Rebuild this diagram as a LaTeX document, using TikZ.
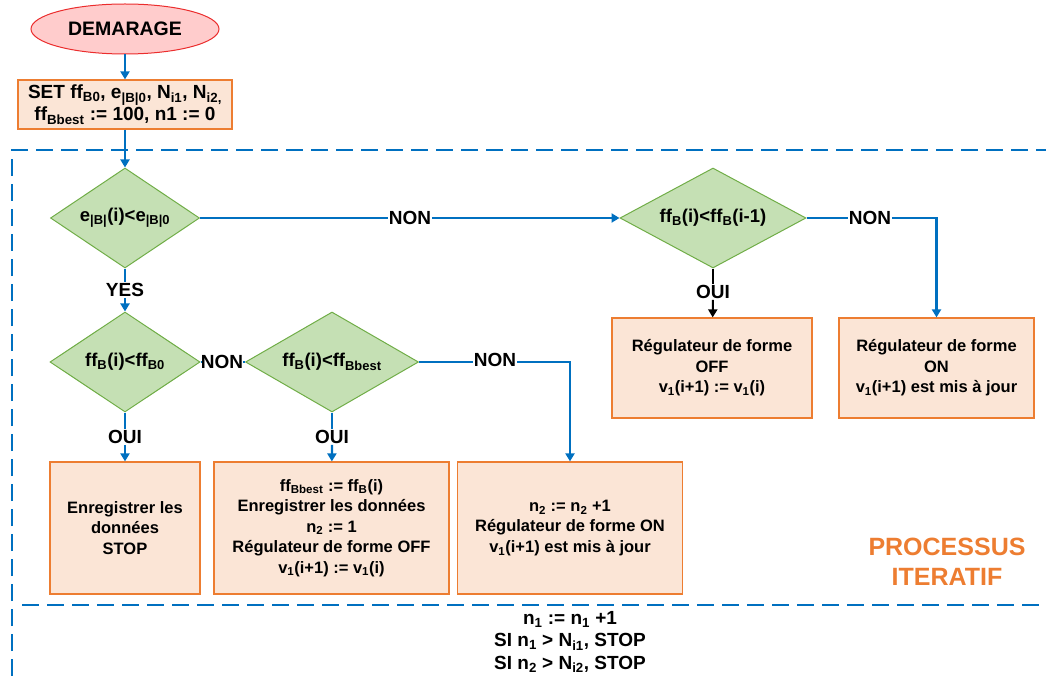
\documentclass[tikz,border=0pt]{standalone}
\usepackage{fontspec}
\setmainfont{Liberation Sans}
\usetikzlibrary{shapes.geometric, arrows.meta}
\definecolor{flowblue}{RGB}{0,112,192}
\definecolor{testfill}{RGB}{197,224,180}
\definecolor{testedge}{RGB}{112,173,71}
\definecolor{boxfill}{RGB}{251,229,214}
\definecolor{boxedge}{RGB}{237,125,49}
\definecolor{startfill}{RGB}{255,204,204}
\definecolor{startedge}{RGB}{235,45,45}

\begin{document}
\begin{tikzpicture}[x=1pt,y=-1pt,
  txt/.style={font=\fontsize{16.5}{20.5}\selectfont\bfseries, align=center},
  test/.style={diamond, aspect=1.6, txt, font=\fontsize{18.5}{22}\selectfont\bfseries, draw=testedge, fill=testfill, line width=1pt, inner sep=0pt, minimum width=#1, minimum height=100pt},
  action/.style={rectangle, txt, draw=boxedge, fill=boxfill, line width=1.2pt, inner sep=0pt, minimum width=#1},
  lab/.style={txt, font=\fontsize{19}{22}\selectfont\bfseries, inner sep=1pt},
  flow/.style={draw=flowblue, line width=2.2pt},
  flowarr/.style={flow, -{Triangle[width=9pt,length=8pt]}},
  frame/.style={draw=flowblue, line width=1.8pt, dash pattern=on 17pt off 8pt}]
\useasboundingbox (0,0) rectangle (1046,676);

% iterative frame
\draw[frame] (12,676) -- (12,150) -- (1046,150);
\draw[frame] (22,605) -- (1046,605);

% start and init
\node[ellipse, draw=startedge, fill=startfill, line width=1pt, minimum width=188pt, minimum height=50pt, inner sep=0pt, font=\fontsize{19.5}{22}\selectfont\bfseries] (start) at (125,29) {DEMARAGE};
\node[action=214pt, minimum height=49pt, font=\fontsize{19}{22}\selectfont\bfseries] (init) at (125,104.5)
  {SET ff\textsubscript{B0}, e\textsubscript{|B|0}, N\textsubscript{i1}, N\textsubscript{i2,}\\ ff\textsubscript{Bbest} := 100, n1 := 0};

% tests
\node[test=149pt] (erreur) at (125,218) {e\textsubscript{|B|}(i)<e\textsubscript{|B|0}};
\node[test=150pt] (ffzero) at (125,362) {ff\textsubscript{B}(i)<ff\textsubscript{B0}};
\node[test=173pt] (ffbest) at (332,362) {ff\textsubscript{B}(i)<ff\textsubscript{Bbest}};
\node[test=186pt] (ffprev) at (713,218) {ff\textsubscript{B}(i)<ff\textsubscript{B}(i-1)};

% actions
\node[action=150pt, minimum height=132pt] (stop) at (125,528) {Enregistrer les\\ données\\ STOP};
\node[action=235pt, minimum height=132pt] (best) at (331.5,528)
  {ff\textsubscript{Bbest} := ff\textsubscript{B}(i)\\ Enregistrer les données\\ n\textsubscript{2} := 1\\ Régulateur de forme OFF\\ v\textsubscript{1}(i+1) := v\textsubscript{1}(i)};
\node[action=225pt, minimum height=132pt] (count) at (570,528)
  {n\textsubscript{2} := n\textsubscript{2} +1\\ Régulateur de forme ON\\ v\textsubscript{1}(i+1) est mis à jour};
\node[action=200pt, minimum height=100pt] (regoff) at (712,368)
  {Régulateur de forme\\ OFF\\ v\textsubscript{1}(i+1) := v\textsubscript{1}(i)};
\node[action=195pt, minimum height=100pt] (regon) at (936.5,368)
  {Régulateur de forme\\ ON\\ v\textsubscript{1}(i+1) est mis à jour};

% branch labels
\node[lab] (yes) at (125,290) {YES};
\node[lab] (non1) at (410,218) {NON};
\node[lab, inner sep=0pt] (non2) at (222,362) {NON};
\node[lab] (non3) at (495,360) {NON};
\node[lab] (non4) at (870,218) {NON};
\node[lab] (oui1) at (125,437) {OUI};
\node[lab] (oui2) at (332,437) {OUI};
\node[lab] (oui3) at (713,292) {OUI};

% connectors
\draw[flowarr] (start) -- (init);
\draw[flowarr] (init) -- (erreur);
\draw[flow] (erreur) -- (yes);
\draw[flowarr] (yes) -- (ffzero);
\draw[flow] (erreur) -- (non1);
\draw[flowarr] (non1) -- (ffprev);
\draw[flow] (ffzero) -- (non2);
\draw[flow] (non2) -- (ffbest);
\draw[flow] (ffzero) -- (oui1);
\draw[flowarr] (oui1) -- (stop);
\draw[flow] (ffbest) -- (oui2);
\draw[flowarr] (oui2) -- (best);
\draw[flow] (ffbest) -- (ffbest -| non3.west);
\draw[flowarr] (non3.east |- ffbest) -| (count);
\draw[flow] (ffprev) -- (non4);
\draw[flowarr] (non4) -| (regon);
\draw[line width=2pt] (ffprev) -- (oui3);
\draw[line width=2pt, -{Triangle[width=9pt,length=8pt]}] (oui3) -- (regoff);

% loop update
\node[txt, font=\fontsize{19}{22.5}\selectfont\bfseries] (update) at (570,642)
  {n\textsubscript{1} := n\textsubscript{1} +1\\ SI n\textsubscript{1} > N\textsubscript{i1}, STOP\\ SI n\textsubscript{2} > N\textsubscript{i2}, STOP};
\node[align=center, text=boxedge, font=\fontsize{25}{30}\selectfont\bfseries] (iter) at (947,562) {PROCESSUS\\ ITERATIF};
\end{tikzpicture}
\end{document}
